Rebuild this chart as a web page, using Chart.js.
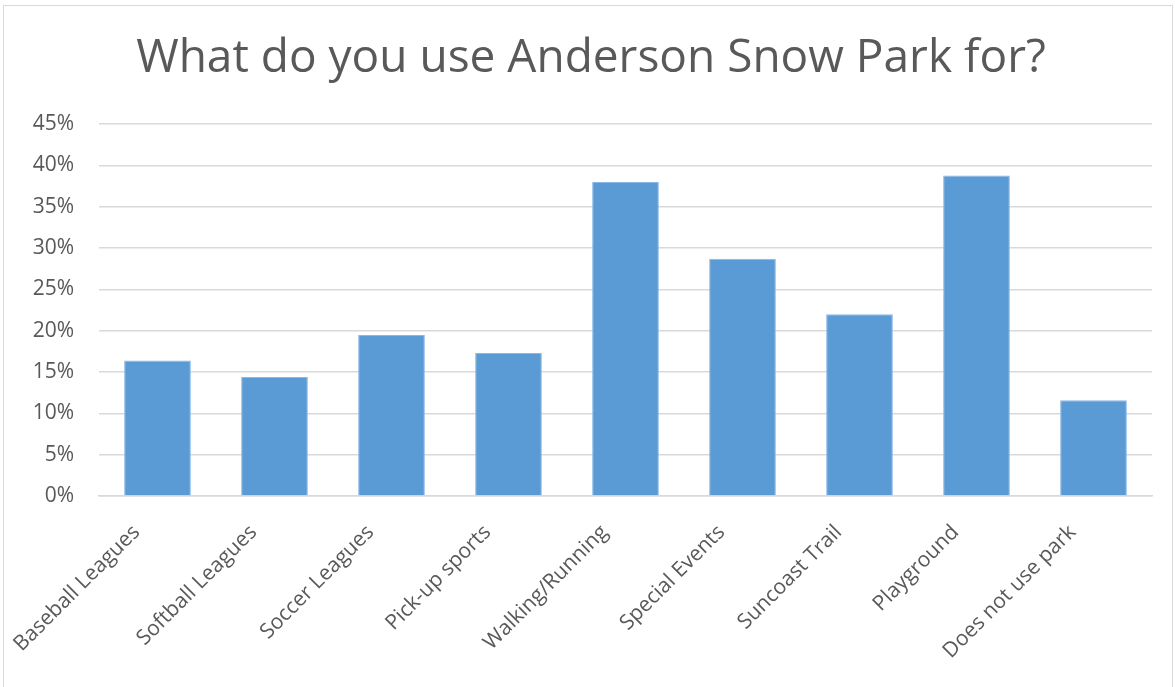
<!DOCTYPE html>
<html>
<head>
<meta charset="utf-8">
<script src="https://cdn.jsdelivr.net/npm/chart.js@4"></script>
<style>
html, body { margin: 0; padding: 0; background: #fff; overflow: hidden; }
#wrap { position: relative; width: 1175px; height: 687px; }
#frame { position: absolute; left: 3px; top: 5px; width: 1168px; height: 690px; border: 1px solid #d9d9d9; pointer-events: none; }
</style>
</head>
<body>
<div id="wrap">
<canvas id="park" width="1175" height="687"></canvas>
<div id="frame"></div>
</div>
<script>
var categories = ['Baseball Leagues', 'Softball Leagues', 'Soccer Leagues', 'Pick-up sports',
    'Walking/Running', 'Special Events', 'Suncoast Trail', 'Playground', 'Does not use park'];
var usage = [16.4, 14.4, 19.5, 17.3, 38.0, 28.7, 22.0, 38.8, 11.6];
var yTicks = [0, 5, 10, 15, 20, 25, 30, 35, 40, 45];

var grey = '#595959';
var ctx = document.getElementById('park');
var parkChart = new Chart(ctx, {
    type: 'bar',
    data: {
        labels: categories,
        datasets: [
            {
                label: 'Usage',
                backgroundColor: '#5B9BD5',
                borderColor: '#8DB8E3',
                borderWidth: 1,
                data: usage,
                categoryPercentage: 1,
                barPercentage: 0.57
            }
        ]
    },
    options: {
        responsive: false,
        animation: false,
        layout: { padding: { left: 30, right: 23, top: 0, bottom: 0 } },
        plugins: {
            legend: { display: false },
            tooltip: { enabled: false },
            title: {
                display: true,
                text: 'What do you use Anderson Snow Park for?',
                color: grey,
                font: { family: 'Open Sans', size: 46, weight: 'normal' },
                padding: { top: 31, bottom: 38 }
            }
        },
        scales: {
            x: {
                grid: { display: false },
                border: { color: '#d9d9d9', width: 1.5 },
                ticks: {
                    color: grey,
                    font: { family: 'Open Sans', size: 21 },
                    minRotation: 45,
                    maxRotation: 45,
                    autoSkip: false,
                    padding: 16,
                    labelOffset: -21
                },
                afterFit: function (scale) { scale.height = 191; }
            },
            y: {
                min: 0,
                max: 45,
                afterBuildTicks: function (scale) {
                    scale.ticks = yTicks.map(function (v) { return { value: v }; });
                },
                grid: { color: '#d9d9d9', lineWidth: 1.5, drawTicks: false },
                border: { display: false },
                ticks: {
                    color: grey,
                    font: { family: 'Open Sans', size: 21 },
                    padding: 25,
                    callback: function (v) { return v + '%'; }
                },
                afterFit: function (scale) { scale.width = 69; }
            }
        }
    }
});
</script>
</body>
</html>
